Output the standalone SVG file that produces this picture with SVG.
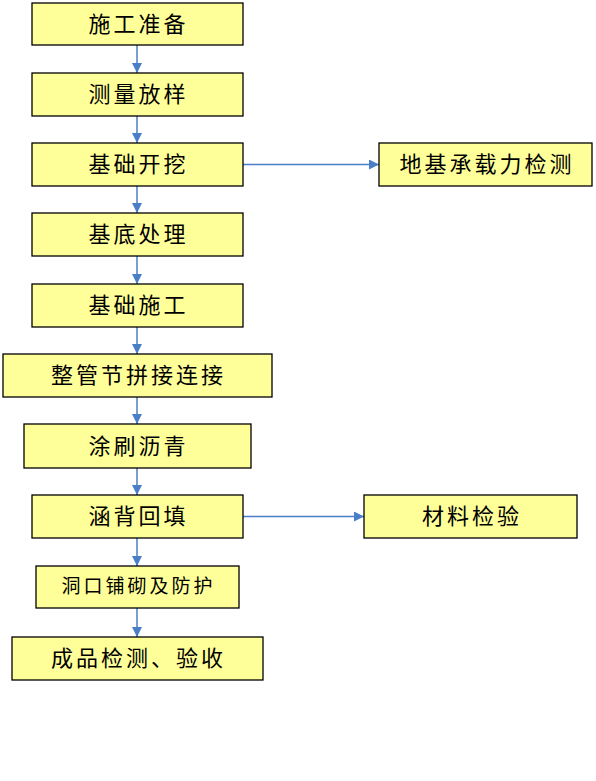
<svg xmlns="http://www.w3.org/2000/svg" width="596" height="781" viewBox="0 0 596 781">
<style>
.box{fill:#FFFF99;stroke:#000;stroke-width:1.3}
.t{font-family:"Noto Sans CJK SC","Noto Sans CJK JP",sans-serif;font-size:22px;fill:#000;text-anchor:middle;letter-spacing:3px}
.s{font-size:19px}
.c{stroke:#4A7EC7;stroke-width:1.5;fill:none}
</style>
<defs>
<marker id="ah" viewBox="0 0 10 10" refX="10" refY="5" markerWidth="10" markerHeight="10" markerUnits="userSpaceOnUse" orient="auto">
<path d="M0,0 L10,5 L0,10 Z" fill="#4A7EC7"/>
</marker>
</defs>
<rect width="596" height="781" fill="#fff"/>
<g id="connectors">
<line class="c" x1="137" y1="45" x2="137" y2="73" marker-end="url(#ah)"/>
<line class="c" x1="137" y1="116" x2="137" y2="143" marker-end="url(#ah)"/>
<line class="c" x1="137" y1="186" x2="137" y2="213" marker-end="url(#ah)"/>
<line class="c" x1="137" y1="256" x2="137" y2="284" marker-end="url(#ah)"/>
<line class="c" x1="137" y1="327" x2="137" y2="354" marker-end="url(#ah)"/>
<line class="c" x1="137" y1="397" x2="137" y2="424" marker-end="url(#ah)"/>
<line class="c" x1="137" y1="468" x2="137" y2="495" marker-end="url(#ah)"/>
<line class="c" x1="137" y1="538" x2="137" y2="566" marker-end="url(#ah)"/>
<line class="c" x1="137" y1="608" x2="137" y2="637" marker-end="url(#ah)"/>
<line class="c" x1="243" y1="164.5" x2="379" y2="164.5" marker-end="url(#ah)"/>
<line class="c" x1="243" y1="516.5" x2="364" y2="516.5" marker-end="url(#ah)"/>
</g>
<g id="n1"><rect class="box" x="32" y="3" width="211" height="42"/><text class="t" x="138.5" y="32">施工准备</text></g>
<g id="n2"><rect class="box" x="32" y="73" width="211" height="43"/><text class="t" x="138.5" y="102">测量放样</text></g>
<g id="n3"><rect class="box" x="32" y="143" width="211" height="43"/><text class="t" x="138.5" y="172">基础开挖</text></g>
<g id="n4"><rect class="box" x="32" y="213" width="211" height="43"/><text class="t" x="138.5" y="242">基底处理</text></g>
<g id="n5"><rect class="box" x="32" y="284" width="211" height="43"/><text class="t" x="138.5" y="313">基础施工</text></g>
<g id="n6"><rect class="box" x="3" y="354" width="269" height="43"/><text class="t" x="138.5" y="383">整管节拼接连接</text></g>
<g id="n7"><rect class="box" x="24" y="424" width="227" height="44"/><text class="t" x="138.5" y="454">涂刷沥青</text></g>
<g id="n8"><rect class="box" x="32" y="495" width="211" height="43"/><text class="t" x="138.5" y="524">涵背回填</text></g>
<g id="n9"><rect class="box" x="36" y="566" width="203" height="42"/><text class="t s" x="138.5" y="593">洞口铺砌及防护</text></g>
<g id="n10"><rect class="box" x="12" y="637" width="251" height="43"/><text class="t" x="138.5" y="666">成品检测、验收</text></g>
<g id="r1"><rect class="box" x="379" y="143" width="213" height="43"/><text class="t" x="487" y="172">地基承载力检测</text></g>
<g id="r2"><rect class="box" x="364" y="495" width="213" height="43"/><text class="t" x="472" y="524">材料检验</text></g>
</svg>
